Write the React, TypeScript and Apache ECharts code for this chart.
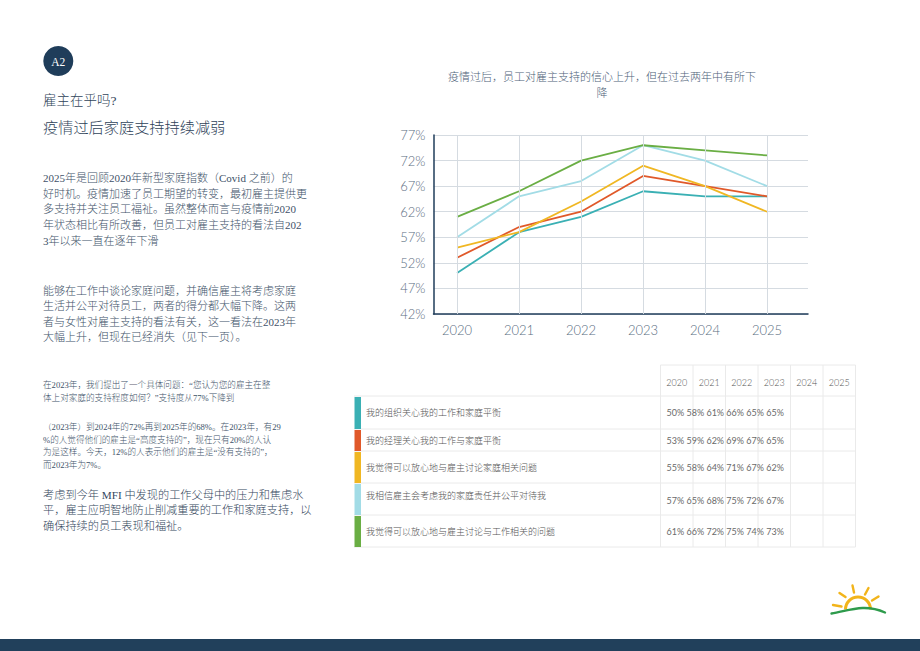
import React, { useEffect, useRef } from 'react';
import * as echarts from 'echarts';

// ---- data ----
const YEARS = [2020, 2021, 2022, 2023, 2024, 2025];
const SERIES_NAMES = [
  '我的组织关心我的工作和家庭平衡',
  '我的经理关心我的工作与家庭平衡',
  '我觉得可以放心地与雇主讨论家庭相关问题',
  '我相信雇主会考虑我的家庭责任并公平对待我',
  '我觉得可以放心地与雇主讨论与工作相关的问题',
];
const SERIES_COLORS = ['#3AB0B4', '#E0592A', '#F0B723', '#A2DCE6', '#6AAE44'];
const ORG_CARES = [50, 58, 61, 66, 65, 65];
const MANAGER_CARES = [53, 59, 62, 69, 67, 65];
const FAMILY_TALK = [55, 58, 64, 71, 67, 62];
const FAIR_TREATMENT = [57, 65, 68, 75, 72, 67];
const WORK_TALK = [61, 66, 72, 75, 74, 73];
const SERIES_VALUES = [ORG_CARES, MANAGER_CARES, FAMILY_TALK, FAIR_TREATMENT, WORK_TALK];
const Y_MIN = 42;
const Y_MAX = 77;
const Y_STEP = 5;

// ---- text ----
const CHART_TITLE = '疫情过后，员工对雇主支持的信心上升，但在过去两年中有所下\n降';
const BADGE = 'A2';
const KICKER = '雇主在乎吗?';
const HEADLINE = '疫情过后家庭支持持续减弱';
const PARA_1 = [
  '2025年是回顾2020年新型家庭指数（Covid 之前）的',
  '好时机。疫情加速了员工期望的转变，最初雇主提供更',
  '多支持并关注员工福祉。虽然整体而言与疫情前2020',
  '年状态相比有所改善，但员工对雇主支持的看法自202',
  '3年以来一直在逐年下滑',
];
const PARA_2 = [
  '能够在工作中谈论家庭问题，并确信雇主将考虑家庭',
  '生活并公平对待员工，两者的得分都大幅下降。这两',
  '者与女性对雇主支持的看法有关，这一看法在2023年',
  '大幅上升，但现在已经消失（见下一页）。',
];
const NOTE_1 = [
  '在2023年，我们提出了一个具体问题：“您认为您的雇主在整',
  '体上对家庭的支持程度如何？”支持度从77%下降到',
];
const NOTE_2 = [
  '（2023年）到2024年的72%再到2025年的68%。在2023年，有29',
  '%的人觉得他们的雇主是“高度支持的”，现在只有20%的人认',
  '为是这样。今天，12%的人表示他们的雇主是“没有支持的”，',
  '而2023年为7%。',
];
const PARA_3 = [
  '考虑到今年 MFI 中发现的工作父母中的压力和焦虑水',
  '平，雇主应明智地防止削减重要的工作和家庭支持，以',
  '确保持续的员工表现和福祉。',
];

// ---- styling ----
const NAVY = '#1F3D5A';
const TEXT = '#3E5268';
const AXIS_TEXT = '#5A6D81';
const GRID = '#D5DBE1';
const TABLE_LINE = '#EAEAEA';
const BODY_FONT = "'Liberation Serif', 'Noto Sans CJK SC', serif";
const CJK_FONT = "'Noto Sans CJK SC', sans-serif";
const NUM_FONT = "Lato, 'Noto Sans CJK SC', sans-serif";

function textLines(lines: string[], x: number, y0: number, step: number, size: number, fill: string, font = BODY_FONT) {
  return lines.map((t, i) => ({
    type: 'text',
    silent: true,
    x,
    y: y0 + i * step,
    style: { text: t, fontSize: size, fontFamily: font, fontWeight: 300, fill, align: 'left', verticalAlign: 'middle' },
  }));
}

function buildTable() {
  const els: any[] = [];
  const colX0 = 660.5;
  const colW = 32.5;
  const tableLeft = 354;
  const tableRight = colX0 + colW * YEARS.length;
  const headerTop = 365;
  const rowEdges = [396, 429, 451, 483, 515, 547];
  // header cells + vertical rules
  for (let c = 0; c <= YEARS.length; c++) {
    const x = colX0 + c * colW;
    els.push({ type: 'line', silent: true, shape: { x1: x, y1: headerTop, x2: x, y2: rowEdges[rowEdges.length - 1] }, style: { stroke: TABLE_LINE, lineWidth: 1 } });
  }
  els.push({ type: 'line', silent: true, shape: { x1: colX0, y1: headerTop, x2: tableRight, y2: headerTop }, style: { stroke: TABLE_LINE, lineWidth: 1 } });
  YEARS.forEach((yr, c) => {
    els.push({
      type: 'text', silent: true, x: colX0 + c * colW + colW / 2, y: 382.5,
      style: { text: String(yr), fontSize: 9, fontFamily: NUM_FONT, fontWeight: 300, fill: '#555', align: 'center', verticalAlign: 'middle' },
    });
  });
  rowEdges.forEach((y) => {
    els.push({ type: 'line', silent: true, shape: { x1: tableLeft, y1: y, x2: tableRight, y2: y }, style: { stroke: TABLE_LINE, lineWidth: 1 } });
  });
  const labelOffsets = [0, 0, 0, -4, 0];
  const valueOffsets = [0, 0, 0, 1.5, 0];
  SERIES_NAMES.forEach((name, r) => {
    const top = rowEdges[r];
    const bottom = rowEdges[r + 1];
    const mid = (top + bottom) / 2;
    els.push({ type: 'rect', silent: true, shape: { x: 354.5, y: top + 1, width: 6.5, height: bottom - top - 1 }, style: { fill: SERIES_COLORS[r] } });
    els.push({
      type: 'text', silent: true, x: 366, y: mid + labelOffsets[r],
      style: { text: name, fontSize: 9, fontFamily: CJK_FONT, fontWeight: 300, fill: '#555', align: 'left', verticalAlign: 'middle' },
    });
    els.push({
      type: 'text', silent: true, x: 666.5, y: mid + valueOffsets[r],
      style: { text: SERIES_VALUES[r].map((v) => v + '%').join(' '), fontSize: 9, fontFamily: NUM_FONT, fontWeight: 400, fill: '#6A6A6A', align: 'left', verticalAlign: 'middle' },
    });
  });
  return els;
}

function buildLogo() {
  const SUN = '#F2B41A';
  const rays = [
    [833, 605, 841.5, 606.5],
    [839.5, 593, 845.5, 597],
    [852.5, 585.5, 854, 592.5],
    [868.5, 588, 865, 594.5],
    [878.5, 596.5, 872, 600.5],
  ];
  const els: any[] = rays.map(([x1, y1, x2, y2]) => ({
    type: 'line', silent: true, shape: { x1, y1, x2, y2 }, style: { stroke: SUN, lineWidth: 2.4, lineCap: 'round' },
  }));
  els.push({ type: 'arc', silent: true, shape: { cx: 858, cy: 609.5, r: 12.5, startAngle: Math.PI, endAngle: Math.PI * 2, clockwise: true }, style: { stroke: SUN, lineWidth: 3, fill: 'none' } });
  els.push({ type: 'bezierCurve', silent: true, shape: { x1: 831.5, y1: 613.5, cpx1: 848, cpy1: 611, cpx2: 864, cpy2: 603, x2: 885, y2: 612.5 }, style: { stroke: '#2E9B4C', lineWidth: 2.4, fill: 'none', lineCap: 'round' } });
  return els;
}

export default function App() {
  const ref = useRef<HTMLDivElement>(null);
  useEffect(() => {
    if (!ref.current) return;
    const chart = echarts.init(ref.current, undefined, { renderer: 'svg' });

    const lineSeries = SERIES_NAMES.map((name, i) => ({
      name,
      type: 'line',
      z: 3,
      symbol: 'none',
      silent: true,
      data: YEARS.map((yr, k) => [yr, SERIES_VALUES[i][k]]),
      lineStyle: { color: SERIES_COLORS[i], width: 1.8 },
      itemStyle: { color: SERIES_COLORS[i] },
    }));

    const option: any = {
      animation: false,
      backgroundColor: '#ffffff',
      grid: { left: 433.5, top: 135, width: 374.5, height: 179 },
      xAxis: {
        type: 'value',
        min: 2019.62,
        max: 2025.66,
        axisLine: { show: true, onZero: false, lineStyle: { color: NAVY, width: 1.5 } },
        axisTick: { show: false },
        splitLine: { show: false },
        axisLabel: {
          customValues: YEARS,
          formatter: (v: number) => String(v),
          color: AXIS_TEXT,
          fontSize: 13,
          fontWeight: 300,
          fontFamily: NUM_FONT,
          margin: 9,
        },
      },
      yAxis: {
        type: 'value',
        min: Y_MIN,
        max: Y_MAX,
        interval: Y_STEP,
        axisLine: { show: true, lineStyle: { color: NAVY, width: 1.5 } },
        axisTick: { show: false },
        splitLine: { show: true, lineStyle: { color: GRID, width: 1 } },
        axisLabel: { formatter: '{value}%', color: AXIS_TEXT, fontSize: 13, fontWeight: 300, fontFamily: NUM_FONT, margin: 8 },
      },
      series: [
        {
          // vertical year rules behind the lines
          type: 'line',
          z: 1,
          silent: true,
          symbol: 'none',
          data: YEARS.map((yr, k) => [yr, ORG_CARES[k]]),
          lineStyle: { opacity: 0 },
          markLine: {
            silent: true,
            symbol: ['none', 'none'],
            label: { show: false },
            lineStyle: { color: GRID, width: 1, type: 'solid' },
            emphasis: { disabled: true },
            data: YEARS.map((yr) => ({ xAxis: yr })),
          },
        },
        ...lineSeries,
      ],
      graphic: {
        elements: [
          { type: 'circle', silent: true, shape: { cx: 58.3, cy: 61, r: 15 }, style: { fill: NAVY } },
          { type: 'text', silent: true, x: 58.3, y: 61.5, style: { text: BADGE, fontSize: 11.5, fontFamily: BODY_FONT, fill: '#ffffff', align: 'center', verticalAlign: 'middle' } },
          { type: 'text', silent: true, x: 43, y: 100, style: { text: KICKER, fontSize: 13.5, fontFamily: BODY_FONT, fontWeight: 300, fill: '#2F4359', align: 'left', verticalAlign: 'middle' } },
          { type: 'text', silent: true, x: 43, y: 127.5, style: { text: HEADLINE, fontSize: 15.2, fontFamily: BODY_FONT, fontWeight: 300, fill: '#2F4359', align: 'left', verticalAlign: 'middle' } },
          ...textLines(PARA_1, 43, 178, 15.7, 11, TEXT),
          ...textLines(PARA_2, 43, 291, 15.3, 11, TEXT),
          ...textLines(NOTE_1, 43, 385, 12.5, 8.6, TEXT),
          ...textLines(NOTE_2, 43, 427, 12.7, 8.6, TEXT),
          ...textLines(PARA_3, 43, 495, 15.3, 11.2, '#34475D'),
          {
            type: 'text', silent: true, x: 602, y: 68,
            style: { text: CHART_TITLE, fontSize: 11, lineHeight: 16, fontFamily: CJK_FONT, fontWeight: 300, fill: '#4E6278', align: 'center', verticalAlign: 'top' },
          },
          ...buildTable(),
          ...buildLogo(),
          { type: 'rect', silent: true, shape: { x: 0, y: 639, width: 920, height: 12 }, style: { fill: '#21405B' } },
        ],
      },
    };
    chart.setOption(option);
    return () => chart.dispose();
  }, []);

  return <div ref={ref} style={{ position: 'absolute', left: 0, top: 0, width: 920, height: 651 }} />;
}
